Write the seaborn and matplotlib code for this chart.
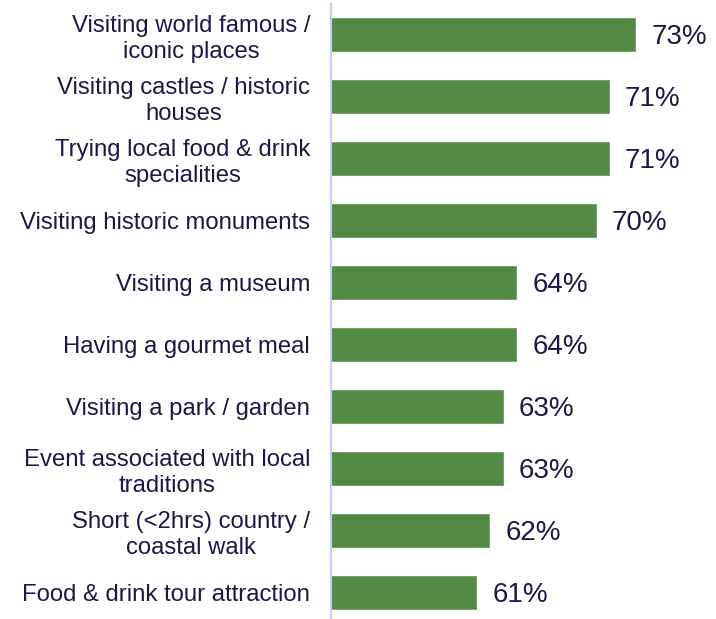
import numpy as np
import pandas as pd
import seaborn as sns
import matplotlib
import matplotlib.pyplot as plt

# dados
activities = ["Visiting world famous /\niconic places",
              "Visiting castles / historic\nhouses",
              "Trying local food & drink\nspecialities",
              "Visiting historic monuments",
              "Visiting a museum",
              "Having a gourmet meal",
              "Visiting a park / garden",
              "Event associated with local\ntraditions",
              "Short (<2hrs) country /\ncoastal walk",
              "Food & drink tour attraction"]
share = [73, 71, 71, 70, 64, 64, 63, 63, 62, 61]

df = pd.DataFrame({"activity": activities, "share": share})

sns.set_style('white')
plt.rcParams['font.family'] = ['Liberation Sans', 'DejaVu Sans']

text_color = '#1b1848'
bar_color = '#538a46'

fig = plt.figure(figsize=(7.16, 6.19), dpi=100)
ax = fig.add_axes([331/716, 0, 385/716, 615/619])

sns.barplot(data=df, x="share", y="activity", color=bar_color, width=0.565,
            saturation=1, ax=ax)

ax.set_xlim(50, 79)
ax.set_ylim(9.427, -0.492)
ax.set_xlabel('')
ax.set_ylabel('')
ax.set_xticks([])

for s in ['top', 'right', 'bottom']:
    ax.spines[s].set_visible(False)
ax.spines['left'].set_color('#cdccf7')
ax.spines['left'].set_linewidth(1.5)

ax.tick_params(axis='y', length=0, pad=15)
for lbl in ax.get_yticklabels():
    lbl.set_fontsize(17.2)
    lbl.set_color(text_color)
    lbl.set_linespacing(1.25)
    lbl.set_horizontalalignment('right')
    lbl.set_multialignment('center')

# rotulos de valor
for i, v in enumerate(share):
    ax.annotate(f"{v}%", xy=(v, i), xytext=(11, -2), textcoords='offset points',
                va='center', ha='left', fontsize=20, color=text_color,
                annotation_clip=False)

plt.savefig('out.png', dpi=100)
